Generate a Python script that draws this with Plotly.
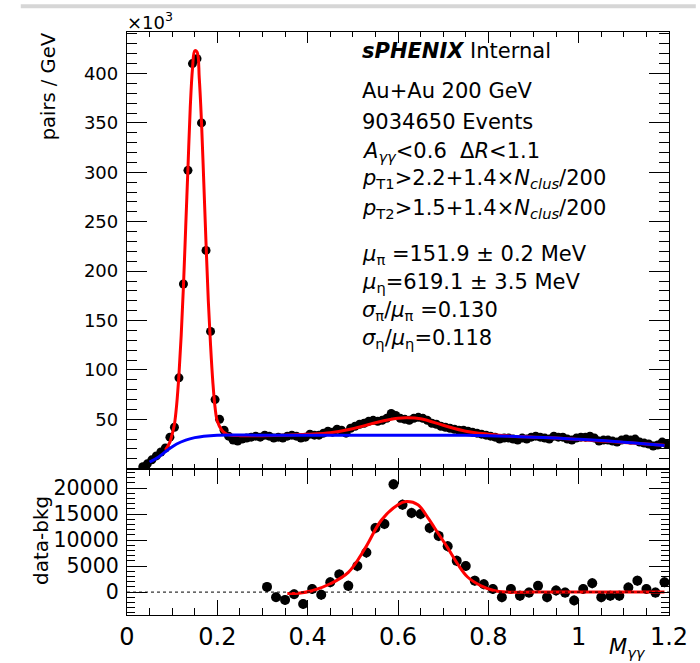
import numpy as np
import plotly.graph_objects as go

# ---------------- data ----------------
# upper panel: pairs / GeV in units of 10^3, bins of 0.01 GeV
top_bin_centers = np.round(np.arange(0.035, 1.2, 0.01), 3)
top_counts_k = [
    2, 5, 9, 13, 17, 21, 32,
    42, 92, 187, 302, 410, 415, 350, 221, 139, 70,
    50, 39, 33, 29, 28, 30, 31, 32, 33, 32,
    34, 33, 31, 32, 31, 33, 34, 33, 31, 32,
    35, 34, 34, 36, 38, 37, 40, 39, 36, 41,
    43, 45, 46, 48, 49, 48, 49, 51, 56, 54,
    51, 50, 49, 51, 52, 51, 49, 46, 45, 43,
    42, 41, 40, 39, 39, 38, 37, 36, 35, 34,
    33, 32, 30, 31, 31, 30, 29, 31, 30, 32,
    33, 32, 31, 30, 33, 32, 32, 30, 29, 31,
    32, 32, 33, 31, 28, 29, 29, 28, 27, 29,
    30, 29, 30, 27, 26, 25, 23, 24, 27, 25,
]

# full fit (red)
fit_x = [0.085, 0.095, 0.10, 0.105, 0.11, 0.115, 0.12, 0.125, 0.13, 0.135, 0.14,
         0.145, 0.15, 0.155, 0.16, 0.165, 0.17, 0.175, 0.18, 0.185, 0.19, 0.195,
         0.20, 0.21, 0.22, 0.23, 0.25, 0.30, 0.35, 0.40, 0.45, 0.50, 0.55, 0.60,
         0.62, 0.65, 0.70, 0.75, 0.80, 0.85, 0.90, 0.95, 1.00, 1.05, 1.10, 1.15, 1.19]
fit_y = [19, 27, 35, 45, 65, 95, 135, 185, 245, 305, 365,
         405, 423, 422, 395, 350, 290, 228, 170, 125, 88, 62,
         48, 39, 35, 34, 33.5, 33.5, 34, 35, 36.5, 40.5, 46.5, 51,
         51.5, 50.5, 44, 38, 35, 33, 32, 31, 29.6, 28.2, 26.6, 25, 23.8]

# background (blue)
bkg_x = [0.05, 0.07, 0.09, 0.11, 0.13, 0.15, 0.17, 0.20, 0.30, 0.40, 0.50, 0.60,
         0.70, 0.75, 0.80, 0.85, 0.90, 0.95, 1.00, 1.05, 1.10, 1.15, 1.19]
bkg_y = [6.8, 12, 19, 25, 29, 31.5, 33, 34, 34, 34, 34, 34,
         34, 33.8, 33.3, 32.8, 32, 31, 29.8, 28.5, 26.8, 25, 23.5]

# lower panel: data - bkg, bins of 0.02 GeV
low_bin_centers = np.round(np.arange(0.31, 1.2, 0.02), 3)
low_resid = [
    1000, -1000, -1500, -400, -2300, 600, -500, 1900, 3400, 1200,
    5000, 7600, 12300, 13100, 20700, 16800, 15200, 15000, 12300, 10800,
    8800, 6000, 5000, 2200, 1500, 600, -1000, 600, -700, -100,
    1200, -1000, 300, -100, -1600, 600, 1700, -1000, -700, -700,
    900, 2200, 600, -100, 1900,
]
low_err = [
    900, 900, 900, 900, 900, 950, 950, 950, 950, 1000,
    1000, 1000, 1000, 1000, 1000, 1000, 1000, 1000, 1000, 1000,
    1000, 1000, 950, 950, 950, 950, 950, 950, 950, 950,
    950, 950, 950, 950, 950, 950, 950, 950, 950, 950,
    950, 950, 950, 950, 950,
]

# eta fit in the residual panel (red)
rfit_x = [0.355, 0.38, 0.41, 0.45, 0.49, 0.527, 0.563, 0.60, 0.618, 0.644, 0.666,
          0.688, 0.71, 0.732, 0.754, 0.784, 0.812, 0.84, 0.90, 1.00, 1.10, 1.19]
rfit_y = [-250, -200, 250, 1600, 3800, 8400, 13800, 16800, 17400, 16800, 14300,
          11400, 8500, 5400, 2900, 1200, 300, 0, 0, 0, 0, 0]

x_tick_vals = [0, 0.2, 0.4, 0.6, 0.8, 1.0, 1.2]
x_tick_text = ["0", "0.2", "0.4", "0.6", "0.8", "1", "1.2"]
top_tick_vals = [50, 100, 150, 200, 250, 300, 350, 400]
top_tick_text = ["50", "100", "150", "200", "250", "300", "350", "400"]
low_tick_vals = [0, 5000, 10000, 15000, 20000]
low_tick_text = ["0", "5000", "10000", "15000", "20000"]

info_lines = [
    "<b><i>sPHENIX</i></b> Internal",
    "Au+Au 200 GeV",
    "9034650 Events",
    "<i>A</i><sub><i>γγ</i></sub>&lt;0.6  Δ<i>R</i>&lt;1.1",
    "<i>p</i><sub>T1</sub>&gt;2.2+1.4×<i>N</i><sub><i>clus</i></sub>/200",
    "<i>p</i><sub>T2</sub>&gt;1.5+1.4×<i>N</i><sub><i>clus</i></sub>/200",
    "<i>μ</i><sub>π</sub> =151.9 ± 0.2 MeV",
    "<i>μ</i><sub>η</sub>=619.1 ± 3.5 MeV",
    "<i>σ</i><sub>π</sub>/<i>μ</i><sub>π</sub> =0.130",
    "<i>σ</i><sub>η</sub>/<i>μ</i><sub>η</sub>=0.118",
]

# ---------------- layout geometry ----------------
FONT = "DejaVu Sans, Liberation Sans, Arial, sans-serif"
L, T, W, H = 127, 32, 546, 586
split_px = 471
y_split = (T + H - split_px) / H


def px(xp):
    return (xp - L) / W


def py(yp):
    return (T + H - yp) / H


fig = go.Figure()

fig.add_trace(go.Scatter(x=top_bin_centers, y=top_counts_k, mode="markers",
                         marker=dict(color="black", size=9),
                         xaxis="x", yaxis="y", showlegend=False))
fig.add_trace(go.Scatter(x=fit_x, y=fit_y, mode="lines",
                         line=dict(color="#ff0000", width=3, shape="spline"),
                         xaxis="x", yaxis="y", showlegend=False))
fig.add_trace(go.Scatter(x=bkg_x, y=bkg_y, mode="lines",
                         line=dict(color="#0000ff", width=3, shape="spline"),
                         xaxis="x", yaxis="y", showlegend=False))

fig.add_trace(go.Scatter(x=low_bin_centers, y=low_resid, mode="markers",
                         marker=dict(color="black", size=10),
                         error_y=dict(type="data", array=low_err, color="black",
                                      thickness=1.5, width=0),
                         xaxis="x2", yaxis="y2", showlegend=False))
fig.add_trace(go.Scatter(x=rfit_x, y=rfit_y, mode="lines",
                         line=dict(color="#ff0000", width=3, shape="spline"),
                         xaxis="x2", yaxis="y2", showlegend=False))

common_axis = dict(showline=True, linecolor="black", linewidth=1.3,
                   mirror="allticks", ticks="inside", tickcolor="black",
                   tickwidth=1.2, showgrid=False, zeroline=False)

fig.update_layout(
    width=700, height=663,
    margin=dict(l=L, r=700 - L - W, t=T, b=663 - T - H),
    paper_bgcolor="white", plot_bgcolor="white",
    font=dict(family=FONT, color="black"),
    xaxis=dict(domain=[0, 1], range=[0, 1.2], anchor="y",
               tickvals=x_tick_vals, showticklabels=False, ticklen=11,
               minor=dict(dtick=0.05, tick0=0, ticklen=5, ticks="inside",
                          tickcolor="black", tickwidth=1.2),
               **common_axis),
    yaxis=dict(domain=[y_split, 1], range=[0, 442], anchor="x",
               tickvals=top_tick_vals, ticktext=top_tick_text, ticklen=20,
               tickfont=dict(size=18, family=FONT, color="black"),
               ticklabelstandoff=4,
               minor=dict(dtick=10, tick0=0, ticklen=10, ticks="inside",
                          tickcolor="black", tickwidth=1.2),
               **common_axis),
    xaxis2=dict(domain=[0, 1], range=[0, 1.2], anchor="y2",
                tickvals=x_tick_vals, ticktext=x_tick_text, ticklen=15,
                tickfont=dict(size=24, family=FONT, color="black"),
                minor=dict(dtick=0.05, tick0=0, ticklen=7, ticks="inside",
                           tickcolor="black", tickwidth=1.2),
                **common_axis),
    yaxis2=dict(domain=[0, y_split], range=[-4400, 23700], anchor="x2",
                tickvals=low_tick_vals, ticktext=low_tick_text, ticklen=20,
                tickfont=dict(size=20.5, family=FONT, color="black"),
                ticklabelstandoff=3,
                minor=dict(dtick=1000, tick0=0, ticklen=8, ticks="inside",
                           tickcolor="black", tickwidth=1.2),
                **common_axis),
)

# dashed zero line in the residual panel
fig.add_shape(type="line", xref="x2", yref="y2", x0=0, x1=1.2, y0=0, y1=0,
              line=dict(color="black", width=1, dash="3px,3px"))
# light grey strip at the very top of the picture
fig.add_shape(type="line", xref="paper", yref="paper",
              x0=px(20), x1=px(700), y0=py(6), y1=py(6),
              line=dict(color="#d6d6d6", width=4))

line_y = [51, 91, 122.5, 152.5, 180, 210, 256, 284.5, 312.5, 341]
for txt, yy in zip(info_lines, line_y):
    fig.add_annotation(text=txt, xref="paper", yref="paper", x=px(362), y=py(yy),
                       xanchor="left", yanchor="middle", showarrow=False,
                       font=dict(size=21, family=FONT, color="black"))

fig.add_annotation(text="pairs / GeV", xref="paper", yref="paper",
                   x=px(48), y=py(87), textangle=-90, xanchor="center",
                   yanchor="middle", showarrow=False,
                   font=dict(size=19.5, family=FONT, color="black"))
fig.add_annotation(text="data-bkg", xref="paper", yref="paper",
                   x=px(41), y=py(543), textangle=-90, xanchor="center",
                   yanchor="middle", showarrow=False,
                   font=dict(size=20, family=FONT, color="black"))
fig.add_annotation(text="×10<sup>3</sup>", xref="paper", yref="paper",
                   x=px(125), y=py(21), xanchor="left", yanchor="middle",
                   showarrow=False, font=dict(size=18, family=FONT, color="black"))
fig.add_annotation(text="<i>M</i><sub><i>γγ</i></sub>", xref="paper", yref="paper",
                   x=px(611), y=py(651), xanchor="left", yanchor="middle",
                   showarrow=False, font=dict(size=21, family=FONT, color="black"))

fig.write_html("out.html")
